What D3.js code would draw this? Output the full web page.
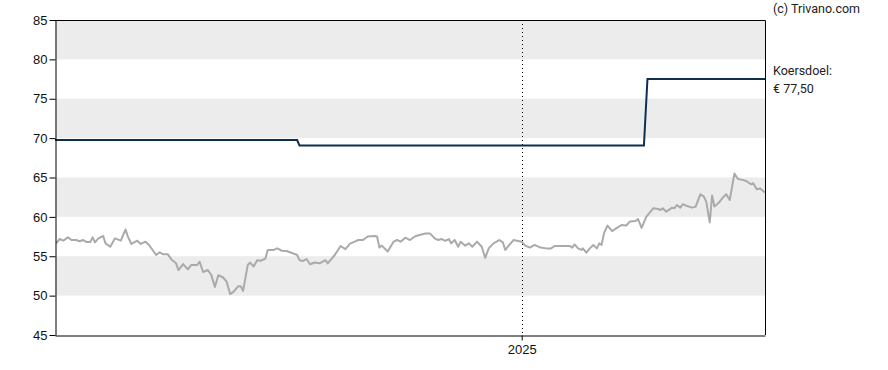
<!DOCTYPE html>
<html>
<head>
<meta charset="utf-8">
<script src="https://d3js.org/d3.v7.min.js"></script>
<style>
  body { margin: 0; background: #fff; }
  svg { display: block; font-family: Roboto, "Liberation Sans", Arial, sans-serif; }
  .axis text { font-size: 13px; fill: #111; }
  .axis path, .axis line { stroke: #000; }
  .note { font-size: 12.5px; fill: #222; }
</style>
</head>
<body>
<svg width="888" height="370"></svg>
<script>
// koers (grijze lijn)
const priceDates = ["2023-12-02","2023-12-05","2023-12-08","2023-12-12","2023-12-15","2023-12-19","2023-12-22","2023-12-25","2023-12-28","2023-12-31",
  "2024-01-02","2024-01-04","2024-01-07","2024-01-11","2024-01-13","2024-01-17","2024-01-21","2024-01-26","2024-01-30","2024-02-01",
  "2024-02-04","2024-02-09","2024-02-12","2024-02-16","2024-02-19","2024-02-25","2024-02-28","2024-03-02","2024-03-06","2024-03-09",
  "2024-03-13","2024-03-15","2024-03-19","2024-03-23","2024-03-26","2024-03-31","2024-04-02","2024-04-05","2024-04-09","2024-04-12",
  "2024-04-15","2024-04-18","2024-04-22","2024-04-25","2024-04-28","2024-05-01","2024-05-05","2024-05-07","2024-05-09","2024-05-13",
  "2024-05-15","2024-05-18","2024-05-21","2024-05-24","2024-05-28","2024-05-30","2024-06-04","2024-06-07","2024-06-11","2024-06-15",
  "2024-06-19","2024-06-24","2024-06-26","2024-06-29","2024-07-02","2024-07-05","2024-07-09","2024-07-13","2024-07-18","2024-07-20",
  "2024-07-26","2024-07-31","2024-08-04","2024-08-08","2024-08-12","2024-08-15","2024-08-19","2024-08-23","2024-08-29","2024-08-31",
  "2024-09-02","2024-09-04","2024-09-09","2024-09-14","2024-09-17","2024-09-20","2024-09-24","2024-09-28","2024-10-02","2024-10-06",
  "2024-10-11","2024-10-15","2024-10-19","2024-10-22","2024-10-25","2024-10-28","2024-10-31","2024-11-02","2024-11-05","2024-11-08",
  "2024-11-10","2024-11-14","2024-11-17","2024-11-20","2024-11-24","2024-11-28","2024-12-01","2024-12-04","2024-12-08","2024-12-13",
  "2024-12-16","2024-12-18","2024-12-21","2024-12-25","2024-12-29","2025-01-01","2025-01-04","2025-01-08","2025-01-12","2025-01-17",
  "2025-01-22","2025-01-26","2025-01-29","2025-02-04","2025-02-11","2025-02-13","2025-02-15","2025-02-18","2025-02-21","2025-02-22",
  "2025-02-25","2025-02-28","2025-03-03","2025-03-06","2025-03-08","2025-03-10","2025-03-12","2025-03-15","2025-03-19","2025-03-23",
  "2025-03-27","2025-03-31","2025-04-03","2025-04-08","2025-04-10","2025-04-13","2025-04-17","2025-04-23","2025-04-27","2025-04-29",
  "2025-05-01","2025-05-04","2025-05-09","2025-05-11","2025-05-13","2025-05-16","2025-05-18","2025-05-21","2025-05-26","2025-05-29",
  "2025-06-02","2025-06-05","2025-06-07","2025-06-10","2025-06-12","2025-06-14","2025-06-18","2025-06-21","2025-06-24","2025-06-27",
  "2025-06-29","2025-07-01","2025-07-04","2025-07-08","2025-07-11","2025-07-15","2025-07-17","2025-07-20","2025-07-23","2025-07-27"];
const priceValues = [56.64,57.19,56.98,57.4,57.06,57.06,56.9,57.06,56.8,56.8,
  57.4,56.77,57.27,57.57,56.64,56.2,57.27,56.98,58.4,57.5,
  56.56,56.98,56.56,56.85,56.43,55.16,55.5,55.24,55.24,54.6,
  54.1,53.25,54.0,53.34,53.9,53.9,54.3,53.0,53.25,52.6,
  51.1,52.6,52.3,51.77,50.2,50.5,51.2,51.2,50.6,53.9,
  54.2,53.7,54.5,54.43,54.7,55.8,55.8,56.0,55.7,55.67,
  55.45,55.16,54.5,54.4,54.65,53.98,54.2,54.1,54.5,54.1,
  55.16,56.3,55.9,56.6,56.85,57.06,57.06,57.5,57.57,57.5,
  56.1,56.35,55.6,56.85,57.06,56.85,57.36,57.06,57.5,57.7,
  57.9,57.9,57.27,57.06,57.19,56.94,57.19,56.64,57.06,56.2,
  56.85,56.35,56.64,56.2,56.85,56.2,54.8,56.0,56.64,57.06,
  56.77,55.8,56.35,57.06,56.94,56.85,56.35,56.1,56.45,56.1,
  56.0,56.0,56.3,56.3,56.3,56.1,56.5,56.0,55.8,56.0,
  55.45,56.0,56.43,56.0,56.64,56.43,57.9,58.9,58.2,58.6,
  58.97,58.9,59.4,59.48,59.73,58.6,60.0,61.1,61.0,60.87,
  61.1,60.66,61.17,61.1,61.5,61.17,61.6,61.42,61.17,61.3,
  62.87,62.57,61.93,59.3,62.7,61.3,61.85,62.43,62.87,62.14,
  63.83,65.5,64.8,64.7,64.56,64.14,64.27,63.5,63.6,63.1];

// koersdoel (donkerblauwe lijn)
const targetDates = ["2023-12-01","2024-06-24","2024-06-26","2025-04-15","2025-04-18","2025-07-27"];
const targetValues = [69.75,69.75,69.05,69.05,77.5,77.5];

const yTicks = [45,50,55,60,65,70,75,80,85];
const bands = [[50,55],[60,65],[70,75],[80,85]];
const xTicks = ["2025-01-01"];
const domainDates = ["2023-12-01","2025-07-27"];

const parse = d3.timeParse("%Y-%m-%d");
const svg = d3.select("svg");
const mLeft = 55, mRight = 765, mTop = 20, mBottom = 335;

const x = d3.scaleTime().domain(domainDates.map(parse)).range([mLeft, mRight]);
const y = d3.scaleLinear().domain([45, 85]).range([mBottom, mTop]);

// grijze banden
svg.append("g").selectAll("rect")
  .data(bands)
  .enter().append("rect")
  .attr("x", mLeft)
  .attr("width", mRight - mLeft)
  .attr("y", d => y(d[1]))
  .attr("height", d => y(d[0]) - y(d[1]))
  .attr("fill", "#ececec");

// 2025 stippellijn
svg.append("g").selectAll("line")
  .data(xTicks.map(parse))
  .enter().append("line")
  .attr("x1", d => Math.round(x(d)) + 0.5)
  .attr("x2", d => Math.round(x(d)) + 0.5)
  .attr("y1", mTop)
  .attr("y2", mBottom)
  .attr("stroke", "#000")
  .attr("stroke-dasharray", "1,3");

const price = priceDates.map((d, i) => ({date: parse(d), value: priceValues[i]}));
const target = targetDates.map((d, i) => ({date: parse(d), value: targetValues[i]}));

const line = d3.line().x(d => x(d.date)).y(d => y(d.value));

svg.append("path")
  .datum(price)
  .attr("d", line)
  .attr("fill", "none")
  .attr("stroke", "#aaaaaa")
  .attr("stroke-width", 2)
  .attr("stroke-linejoin", "round");

svg.append("path")
  .datum(target)
  .attr("d", line)
  .attr("fill", "none")
  .attr("stroke", "#0d3050")
  .attr("stroke-width", 2);

// kader boven en rechts
svg.append("path")
  .attr("d", `M${mLeft},${mTop + 0.5}H${mRight + 0.5}V${mBottom}`)
  .attr("fill", "none")
  .attr("stroke", "#000");

// assen
svg.append("g")
  .attr("class", "axis")
  .attr("transform", `translate(${mLeft + 0.5},0)`)
  .call(d3.axisLeft(y).tickValues(yTicks).tickSize(6).tickSizeOuter(0).tickPadding(2));

svg.append("g")
  .attr("class", "axis")
  .attr("transform", `translate(0,${mBottom + 0.5})`)
  .call(d3.axisBottom(x).tickValues(xTicks.map(parse)).tickFormat(d3.timeFormat("%Y")).tickSize(5).tickSizeOuter(0).tickPadding(4));

// teksten rechts
svg.append("text").attr("class", "note").attr("x", 773).attr("y", 13).text("(c) Trivano.com");
svg.append("text").attr("class", "note").attr("x", 773).attr("y", 75).text("Koersdoel:");
svg.append("text").attr("class", "note").attr("x", 773).attr("y", 93).text("€ 77,50");
</script>
</body>
</html>
